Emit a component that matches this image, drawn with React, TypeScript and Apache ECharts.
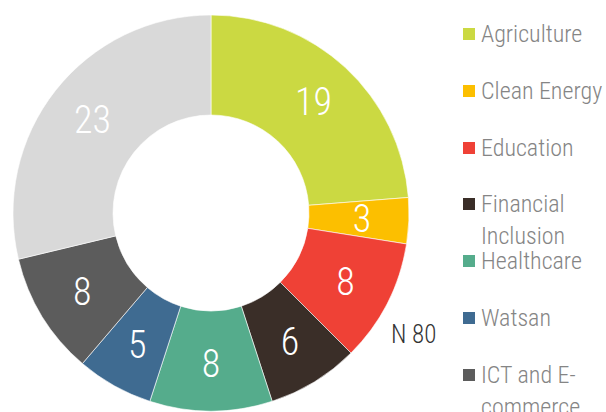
import React, { useEffect, useRef } from "react";
import * as echarts from "echarts";

const categories = [
  "Agriculture",
  "Clean Energy",
  "Education",
  "Financial Inclusion",
  "Healthcare",
  "Watsan",
  "ICT and E-commerce",
  "Other",
];
const values = [19, 3, 8, 6, 8, 5, 8, 23];
const colors = ["#cbd942", "#fcbf00", "#ef4136", "#3a2e28", "#55ac8c", "#3f6b91", "#5c5c5c", "#d9d9d9"];
const legendLines: string[][] = [
  ["Agriculture"],
  ["Clean Energy"],
  ["Education"],
  ["Financial", "Inclusion"],
  ["Healthcare"],
  ["Watsan"],
  ["ICT and E-", "commerce"],
];
const totalLabel = "N 80";

const FONT = "'Roboto Condensed', 'Liberation Sans Narrow', 'DejaVu Sans Condensed', sans-serif";

export default function App() {
  const ref = useRef<HTMLDivElement>(null);
  useEffect(() => {
    document.body.style.margin = "0";
    const chart = echarts.init(ref.current!, null, { renderer: "svg" });
    const lh = 32;
    const legends = legendLines.map((lines, i) => {
      const multi = lines.length > 1;
      const center = 34 + i * 56.8;
      return {
        orient: "vertical",
        left: 461,
        top: Math.round(center - (multi ? lh * 1.5 : lh / 2)),
        itemWidth: 14,
        itemHeight: 14,
        padding: 0,
        selectedMode: false,
        icon: "rect",
        data: [categories[i]],
        formatter: () => (multi ? " \n" + lines.join("\n") : lines[0]),
        textStyle: {
          fontFamily: FONT,
          fontSize: 24,
          fontWeight: 300,
          color: "#858585",
          lineHeight: lh,
        },
      };
    });
    chart.setOption({
      animation: false,
      color: colors,
      legend: legends,
      graphic: [
        {
          type: "text",
          left: 391,
          top: 322,
          style: { text: totalLabel, fontFamily: FONT, fontSize: 25, fontWeight: 300, fill: "#333" },
        },
      ],
      series: [
        {
          type: "pie",
          center: [211, 213],
          radius: [98, 198],
          startAngle: 90,
          clockwise: true,
          avoidLabelOverlap: false,
          itemStyle: { borderColor: "#ffffff", borderWidth: 0.6 },
          label: {
            show: true,
            position: "inside",
            formatter: "{c}",
            color: "#ffffff",
            fontFamily: FONT,
            fontSize: 38,
            fontWeight: 300,
          },
          labelLine: { show: false },
          emphasis: { disabled: true },
          data: categories.map((name, i) => ({ name, value: values[i] })),
        },
      ],
    });
    return () => chart.dispose();
  }, []);
  return <div ref={ref} style={{ width: 606, height: 412 }} />;
}
